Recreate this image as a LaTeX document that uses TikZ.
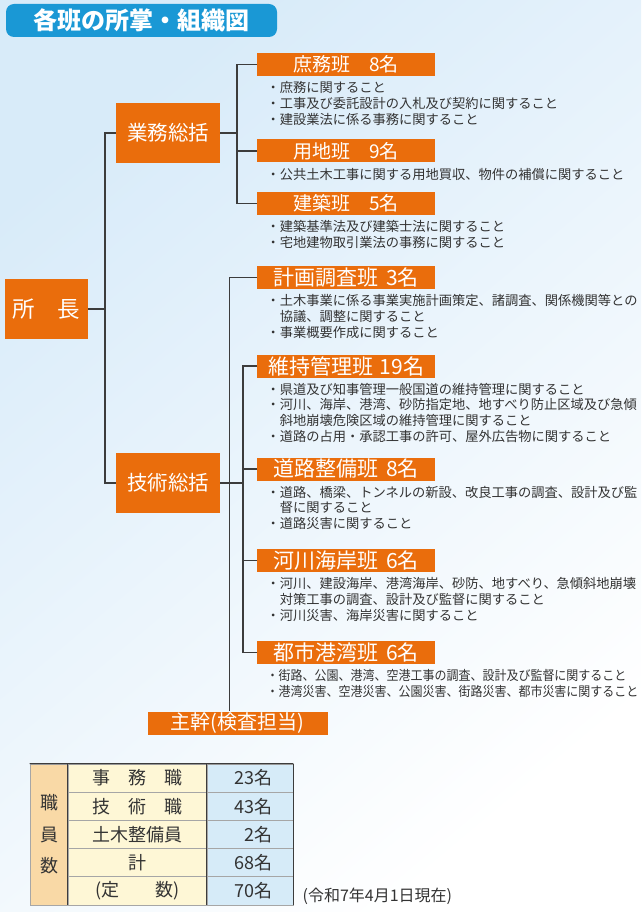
\documentclass[tikz,border=0pt]{standalone}
\usepackage{fontspec}
\setmainfont{Noto Sans CJK JP}
\newfontfamily\narrowjp[FakeStretch=0.905]{Noto Sans CJK JP}
\usetikzlibrary{positioning}
\definecolor{hanorange}{HTML}{EA6D0C}
\definecolor{titleblue}{HTML}{1A98D5}
\definecolor{bgtop}{HTML}{D8EBF9}
\definecolor{bgmid}{HTML}{E6F2FB}
\definecolor{linegray}{HTML}{3C3C3C}
\definecolor{textdark}{HTML}{333333}
\definecolor{tantan}{HTML}{F9D9A6}
\definecolor{cream}{HTML}{FEF7D6}
\definecolor{paleblue}{HTML}{D6EBF8}

\begin{document}
\begin{tikzpicture}[x=1pt, y=-1pt,
        han/.style={rectangle, fill=hanorange, text=white, anchor=west, minimum width=178pt, minimum height=23pt, inner sep=0pt, font=\fontsize{21}{21}\selectfont},
        shorthan/.style={font=\fontsize{19}{19}\selectfont},
        boss/.style={rectangle, fill=hanorange, text=white, minimum width=104pt, minimum height=60pt, inner sep=0pt, font=\fontsize{20.5}{20.5}\selectfont},
        duty/.style={inner sep=0pt, align=left, text=textdark, font=\fontsize{13.25}{15.8}\selectfont},
        link/.style={draw=linegray, line width=1.2pt},
        tcell/.style={rectangle, draw=gray!70, line width=0.8pt, inner sep=0pt, minimum height=28.2pt, text=textdark, font=\fontsize{18}{18}\selectfont},
        tline/.style={draw=linegray, line width=1pt}
    ]
        % Background
        \shade[top color=bgtop, middle color=bgmid, bottom color=white, shading angle=40] (0,0) rectangle (641,912);
        \useasboundingbox (0,0) rectangle (641,912);

        % Title
        \node (title) [rectangle, rounded corners=8pt, fill=titleblue, text=white, minimum width=271pt, minimum height=33pt, inner sep=0pt, font=\fontsize{24}{24}\bfseries] at (141.5,20.5) {各班の所掌・組織図};

        % Heads
        \node (shocho) [boss, minimum width=83pt, font=\fontsize{22.5}{22.5}\selectfont] at (46.5,309) {所　長};
        \node (gyomu) [boss] at (168,133) {業務総括};
        \node (gijutsu) [boss] at (168,483) {技術総括};
        \node (shukan) [han, anchor=center, minimum width=180pt, font=\fontsize{20}{20}\selectfont] at (237.5,723) {主幹(検査担当)};

        % Sections
        \node (shomu) [han, shorthan] at (257,64.5) {庶務班　8名};
        \node (yochi) [han, shorthan] at (257,151) {用地班　9名};
        \node (kenchiku) [han, shorthan] at (257,203.5) {建築班　5名};
        \node (keikaku) [han] at (257,277.5) {計画調査班\hspace{0.35em}3名};
        \node (iji) [han] at (257,366) {維持管理班\hspace{0.3em}19名};
        \node (doro) [han] at (257,469) {道路整備班\hspace{0.35em}8名};
        \node (kasen) [han] at (257,560.5) {河川海岸班\hspace{0.35em}6名};
        \node (toshi) [han] at (257,652.5) {都市港湾班\hspace{0.35em}6名};

        % Duties
        \node (shomu-t) [duty, below right=5pt and 9.5pt of shomu.south west] {・庶務に関すること\\・工事及び委託設計の入札及び契約に関すること\\・建設業法に係る事務に関すること};
        \node (yochi-t) [duty, below right=5pt and 9.5pt of yochi.south west] {・公共土木工事に関する用地買収、物件の補償に関すること};
        \node (kenchiku-t) [duty, below right=5pt and 9.5pt of kenchiku.south west] {・建築基準法及び建築士法に関すること\\・宅地建物取引業法の事務に関すること};
        \node (keikaku-t) [duty, below right=5pt and 9.5pt of keikaku.south west] {・土木事業に係る事業実施計画策定、諸調査、関係機関等との\\　協議、調整に関すること\\・事業概要作成に関すること};
        \node (iji-t) [duty, below right=5pt and 9.5pt of iji.south west] {・県道及び知事管理一般国道の維持管理に関すること\\・河川、海岸、港湾、砂防指定地、地すべり防止区域及び急傾\\　斜地崩壊危険区域の維持管理に関すること\\・道路の占用・承認工事の許可、屋外広告物に関すること};
        \node (doro-t) [duty, below right=5pt and 9.5pt of doro.south west] {・道路、橋梁、トンネルの新設、改良工事の調査、設計及び監\\　督に関すること\\・道路災害に関すること};
        \node (kasen-t) [duty, below right=5pt and 9.5pt of kasen.south west] {・河川、建設海岸、港湾海岸、砂防、地すべり、急傾斜地崩壊\\　対策工事の調査、設計及び監督に関すること\\・河川災害、海岸災害に関すること};
        \node (toshi-t) [duty, below right=5pt and 9.5pt of toshi.south west, font=\narrowjp\fontsize{13.25}{15.8}\selectfont] {・街路、公園、港湾、空港工事の調査、設計及び監督に関すること\\・港湾災害、空港災害、公園災害、街路災害、都市災害に関すること};

        % Lines
        \coordinate (bus0) at (105,309);
        \draw [link] (shocho) -- (bus0);
        \draw [link] (gyomu.west) -| (bus0);
        \draw [link] (gijutsu.west) -| (bus0);
        \coordinate (busG) at (237,133);
        \draw [link] (gyomu) -- (busG);
        \foreach \n in {shomu, yochi, kenchiku}
            \draw [link] (\n.west) -| (busG);
        \coordinate (busK) at (243,483);
        \coordinate (busJ) at (229.5,483);
        \draw [link] (gijutsu) -- (busK);
        \draw [link] (keikaku.west) -| (busJ);
        \draw [link] (busJ) -- (busJ |- shukan.north);
        \foreach \n in {iji, doro, kasen, toshi}
            \draw [link] (\n.west) -| (busK);

        % Staff table
        \node (shoku) [tcell, fill=tantan, minimum width=38pt, minimum height=141pt, align=center, font=\fontsize{18}{31.5}\selectfont] at (49,834.5) {職\\員\\数};
        \foreach \lab/\num [count=\i from 0] in {事　務　職/23名, 技　術　職/43名, 土木整備員/2名, 計/68名, {(定　　数)}/70名} {
            \node (kind\i) [tcell, fill=cream, minimum width=139pt] at (137.5,778.1+28.2*\i) {\lab};
            \node (num\i) [tcell, fill=paleblue, minimum width=86pt, text width=44pt, align=right] at (250,778.1+28.2*\i) {\num};
        }
        \draw [tline] (shoku.north west) -- (num0.north east);
        \draw [tline] (kind0.north west) -- (kind4.south west);
        \draw [tline] (num0.north west) -- (num4.south west);
        \draw [tline] (num0.north east) -- (num4.south east);
        \node (asof) [right=9pt of num4, yshift=-5pt, inner sep=0pt, text=textdark, font=\fontsize{16}{16}\selectfont] {(令和7年4月1日現在)};
\end{tikzpicture}
\end{document}
